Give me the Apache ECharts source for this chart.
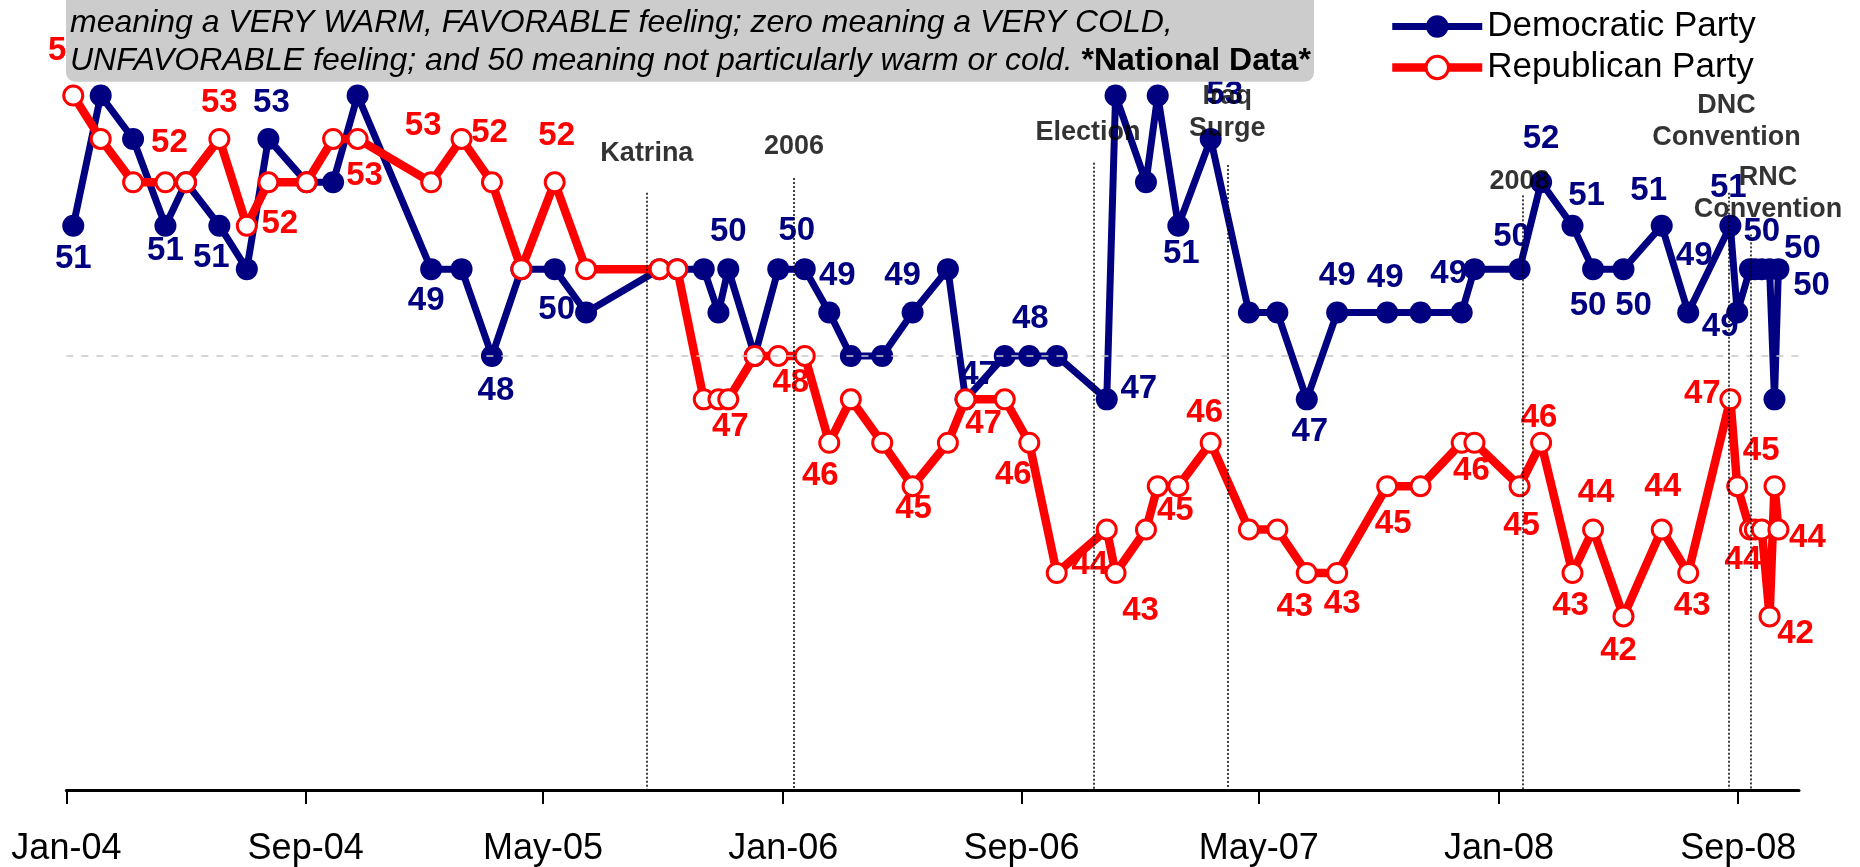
<!DOCTYPE html>
<html>
<head>
<meta charset="utf-8">
<title>Party feeling thermometer</title>
<script src="https://cdn.jsdelivr.net/npm/echarts@6/dist/echarts.min.js"></script>
<style>
  html, body { margin: 0; padding: 0; background: #fff; }
  #main { width: 1860px; height: 867px; }
</style>
</head>
<body>
<div id="main"></div>
<script>
// poll dates and scores
var pollDates = [
  '2004-01-08', '2004-02-05', '2004-03-09', '2004-04-11', '2004-05-02', '2004-06-05', '2004-07-03', '2004-07-25',
  '2004-09-02', '2004-09-29', '2004-10-24', '2005-01-07', '2005-02-07', '2005-03-10', '2005-04-09', '2005-05-13',
  '2005-06-14', '2005-08-28', '2005-09-15', '2005-10-12', '2005-10-27', '2005-11-06', '2005-12-03', '2005-12-27',
  '2006-01-23', '2006-02-17', '2006-03-11', '2006-04-12', '2006-05-13', '2006-06-18', '2006-07-06', '2006-08-15',
  '2006-09-09', '2006-10-07', '2006-11-27', '2006-12-06', '2007-01-06', '2007-01-18', '2007-02-08', '2007-03-13',
  '2007-04-21', '2007-05-20', '2007-06-19', '2007-07-20', '2007-09-09', '2007-10-13', '2007-11-24', '2007-12-07',
  '2008-01-22', '2008-02-13', '2008-03-16', '2008-04-06', '2008-05-07', '2008-06-15', '2008-07-12', '2008-08-24',
  '2008-08-31', '2008-09-13', '2008-09-18', '2008-09-25', '2008-10-03', '2008-10-08', '2008-10-12'
];
var demValues = [
  51, 54, 53, 51, 52, 51, 50, 53, 52, 52, 54, 50, 50, 48, 50, 50,
  49, 50, 50, 50, 49, 50, 48, 50, 50, 49, 48, 48, 49, 50, 47, 48,
  48, 48, 47, 54, 52, 54, 51, 53, 49, 49, 47, 49, 49, 49, 49, 50,
  50, 52, 51, 50, 50, 51, 49, 51, 49, 50, 50, 50, 50, 47, 50
];
var repValues = [
  54, 53, 52, 52, 52, 53, 51, 52, 52, 53, 53, 52, 53, 52, 50, 52,
  50, 50, 50, 47, 47, 47, 48, 48, 48, 46, 47, 46, 45, 46, 47, 47,
  46, 43, 44, 43, 44, 45, 45, 46, 44, 44, 43, 43, 45, 45, 46, 46,
  45, 46, 43, 44, 42, 44, 43, 47, 45, 44, 44, 44, 42, 45, 44
];

// data labels shown on the chart (point index and text)
var demLabelIndex = [0, 3, 5, 7, 11, 13, 15, 21, 24, 25, 28, 30, 32, 34, 38, 39, 42, 43, 44, 46, 48, 49, 50, 51, 52, 53, 54, 55, 56, 59, 60, 62];
var demLabelText = ['51', '51', '51', '53', '49', '48', '50', '50', '50', '49', '49', '47', '48', '47', '51', '53', '47', '49', '49', '49', '50', '52', '51', '50', '50', '51', '49', '51', '49', '50', '50', '50'];
var repLabelIndex = [0, 3, 5, 6, 10, 11, 12, 15, 21, 24, 25, 28, 30, 32, 34, 35, 38, 39, 42, 43, 44, 47, 48, 49, 50, 51, 52, 53, 54, 55, 56, 57, 60, 62];
var repLabelText = ['54', '52', '53', '52', '53', '53', '52', '52', '47', '48', '46', '45', '47', '46', '44', '43', '45', '46', '43', '43', '45', '46', '45', '46', '43', '44', '42', '44', '43', '47', '45', '44', '42', '44'];

// axis ticks
var tickDates = ['2004-01-01', '2004-09-01', '2005-05-01', '2006-01-01', '2006-09-01', '2007-05-01', '2008-01-01', '2008-09-01'];
var tickLabels = ['Jan-04', 'Sep-04', 'May-05', 'Jan-06', 'Sep-06', 'May-07', 'Jan-08', 'Sep-08'];

// events
var eventNames = ['Katrina', '2006', 'Election', 'Iraq\nSurge', '2008', 'DNC\nConvention', 'RNC\nConvention'];
var eventDates = ['2005-08-15', '2006-01-12', '2006-11-14', '2007-03-30', '2008-01-25', '2008-08-22', '2008-09-14'];

// layout of labels (pixel shifts from the point) and event annotations
var demLabelShift = [[0, 33], [0, 25], [-8, 32], [3, -36], [-5, 32], [4, 35], [2, 41], [0, -37], [-8, -38], [8, -37], [-10, -37],
  [13, -24], [1, -37], [32, -10], [3, 28], [14, -44], [3, 33], [0, -37], [-2, -35], [-13, -39], [-8, -32], [0, -43], [14, -30],
  [-5, 37], [10, 37], [-13, -35], [6, -57], [-2, -38], [-17, 14], [0, -37], [42, 17], [24, -20]];
var repLabelShift = [[-7, -45], [4, -39], [0, -36], [33, -2], [7, 37], [-8, -56], [28, -6], [2, -46], [2, 28], [-14, 27], [-9, 33],
  [1, 23], [18, 25], [-16, 32], [-17, 35], [25, 38], [-3, 25], [-6, -30], [-12, 34], [5, 31], [6, 38], [-3, 28], [2, 40], [-2, -25],
  [-2, 33], [3, -37], [-5, 35], [1, -43], [4, 33], [-28, -5], [24, -35], [-7, 30], [26, 18], [29, 8]];
var eventLineTop = [51.76, 52.1, 52.45, 52.4, 51.7, 51.76, 50.8];
var eventLabelY = [52.66, 52.83, 53.15, 53.6, 52.02, 53.4, 51.75];
var eventLabelDx = [0, 0, -6, 0, -3, -2, 17];

function ts(s) {
  var p = s.split('-');
  return new Date(+p[0], +p[1] - 1, +p[2]).getTime();
}

var FONT = 'Liberation Sans';
var tickTimes = tickDates.map(ts);

function buildData(values, idxList, texts, shifts, color) {
  var data = values.map(function (v, i) {
    return { value: [ts(pollDates[i]), v] };
  });
  idxList.forEach(function (idx, k) {
    data[idx].label = {
      show: true,
      position: 'inside',
      formatter: texts[k],
      offset: shifts[k],
      color: color,
      fontSize: 33,
      fontWeight: 'bold',
      fontFamily: FONT,
      textBorderWidth: 0
    };
  });
  return data;
}

var chart = echarts.init(document.getElementById('main'));

var option = {
  animation: false,
  backgroundColor: '#fff',
  grid: { left: 66.4, right: 61, top: 8.7, bottom: 74.5 },
  legend: {
    orient: 'vertical',
    left: 1383,
    top: 4,
    itemWidth: 90,
    itemHeight: 28,
    itemGap: 6,
    selectedMode: false,
    data: ['Democratic Party', 'Republican Party'],
    lineStyle: { width: 'inherit' },
    itemStyle: { borderWidth: 'inherit' },
    textStyle: { fontFamily: FONT, fontSize: 35, color: '#000', lineHeight: 30 }
  },
  xAxis: {
    // dates as day-linear timestamps, Excel-style date axis
    type: 'value',
    min: ts('2004-01-01'),
    max: ts('2008-11-02'),
    axisLine: { lineStyle: { color: '#000', width: 3 } },
    axisTick: { show: true, length: 14, customValues: tickTimes, lineStyle: { color: '#000', width: 2 } },
    axisLabel: {
      customValues: tickTimes,
      margin: 41,
      fontSize: 36,
      fontFamily: FONT,
      color: '#000',
      hideOverlap: false,
      formatter: function (val) {
        for (var i = 0; i < tickTimes.length; i++) {
          if (Math.abs(tickTimes[i] - val) < 43200000) return tickLabels[i];
        }
        return '';
      }
    },
    splitLine: { show: false }
  },
  yAxis: { type: 'value', min: 38, max: 56, show: false },
  graphic: [
    {
      type: 'rect', z: 100,
      shape: { x: 66, y: -20, width: 1248, height: 101.7, r: 9 },
      style: { fill: '#cccccc' }
    },
    {
      type: 'text', z: 101, x: 70, y: 23,
      style: {
        text: 'meaning a VERY WARM, FAVORABLE feeling; zero meaning a VERY COLD,',
        fontFamily: FONT, fontSize: 32, fontStyle: 'italic', fill: '#000', verticalAlign: 'middle'
      }
    },
    {
      type: 'text', z: 101, x: 70, y: 61,
      style: {
        text: '{i|UNFAVORABLE feeling; and 50 meaning not particularly warm or cold. }{b|*National Data*}',
        fontFamily: FONT, fontSize: 32, fill: '#000', verticalAlign: 'middle',
        rich: {
          i: { fontFamily: FONT, fontSize: 32, fontStyle: 'italic', fill: '#000' },
          b: { fontFamily: FONT, fontSize: 32, fontWeight: 'bold', fill: '#000' }
        }
      }
    }
  ],
  series: [
    {
      // neutral reference line
      type: 'line', z: 1, silent: true, data: [],
      markLine: {
        silent: true, symbol: ['none', 'none'], label: { show: false },
        lineStyle: { type: [7, 8], color: '#c8c8c8', width: 1.5 },
        data: [{ yAxis: 48 }]
      }
    },
    {
      name: 'Democratic Party',
      type: 'line', z: 3,
      symbol: 'circle', symbolSize: 22,
      lineStyle: { color: '#000080', width: 7 },
      itemStyle: { color: '#000080' },
      emphasis: { disabled: true },
      data: buildData(demValues, demLabelIndex, demLabelText, demLabelShift, '#000080')
    },
    {
      name: 'Republican Party',
      type: 'line', z: 4,
      symbol: 'circle', symbolSize: 19,
      lineStyle: { color: '#ff0000', width: 8.5 },
      itemStyle: { color: '#ffffff', borderColor: '#ff0000', borderWidth: 3 },
      emphasis: { disabled: true },
      data: buildData(repValues, repLabelIndex, repLabelText, repLabelShift, '#ff0000')
    },
    {
      // event annotations
      type: 'scatter', z: 20, silent: true,
      symbolSize: 1,
      itemStyle: { color: 'rgba(0,0,0,0)' },
      label: {
        show: true, position: 'inside', formatter: '{b}',
        fontFamily: FONT, fontSize: 27, fontWeight: 'bold', color: '#000', lineHeight: 32,
        textBorderWidth: 0,
        textShadowColor: 'rgba(0,0,0,0.25)', textShadowBlur: 0, textShadowOffsetX: 1, textShadowOffsetY: 1
      },
      data: eventNames.map(function (n, i) {
        return { name: n, value: [ts(eventDates[i]), eventLabelY[i]], label: { offset: [eventLabelDx[i], 0] } };
      }),
      markLine: {
        silent: true, symbol: ['none', 'none'], label: { show: false },
        lineStyle: { type: [2, 2], color: '#000', width: 1.5 },
        data: eventDates.map(function (d, i) {
          return [{ coord: [ts(d), eventLineTop[i]] }, { coord: [ts(d), 38] }];
        })
      }
    }
  ]
};

chart.setOption(option);
</script>
</body>
</html>
